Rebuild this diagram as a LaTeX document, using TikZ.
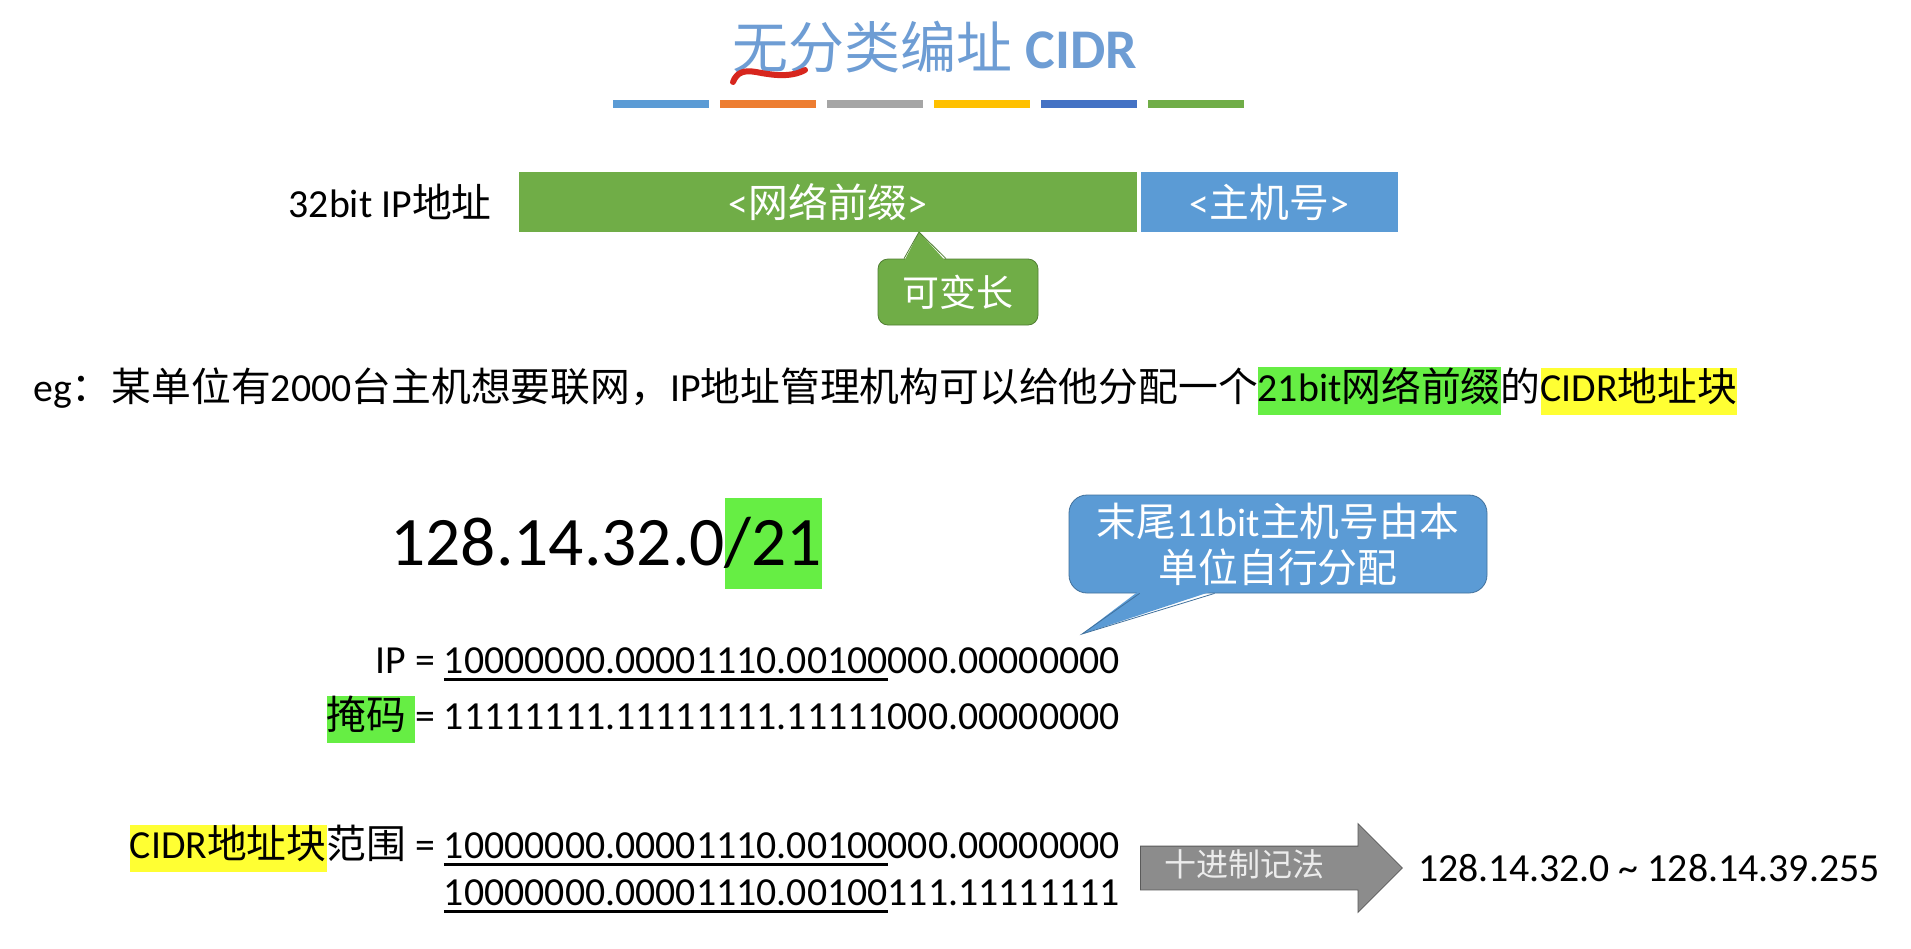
\documentclass[tikz,border=0pt]{standalone}
\usepackage{fontspec}
\setmainfont{Carlito}
\newfontfamily\zh{Noto Sans CJK SC}
\usepackage{xcolor}
\usepackage{tikz}
\usetikzlibrary{positioning, shapes.arrows, calc}

\definecolor{titleblue}{HTML}{6E9DD4}
\definecolor{barblue}{HTML}{5B9BD5}
\definecolor{barorange}{HTML}{ED7D31}
\definecolor{bargray}{HTML}{A5A5A5}
\definecolor{baryellow}{HTML}{FFC000}
\definecolor{bardarkblue}{HTML}{4472C4}
\definecolor{bargreen}{HTML}{70AD47}
\definecolor{greenedge}{HTML}{507E32}
\definecolor{blueedge}{HTML}{41719C}
\definecolor{hlgreen}{HTML}{66EE44}
\definecolor{hlyellow}{HTML}{FFFF33}
\definecolor{arrowgray}{HTML}{8C8C8C}
\definecolor{arrowedge}{HTML}{5A5A5A}
\definecolor{penred}{HTML}{D7261E}

\newcommand{\bodyfont}{\fontsize{19.9pt}{23pt}\selectfont}
\newcommand{\hlmark}[2]{{\setlength{\fboxsep}{0pt}\colorbox{#1}{\strut #2}}}
\newcommand{\ulbits}[1]{\setbox0\hbox{#1}\rlap{\rule[-3.8pt]{\wd0}{1.4pt}}\box0\relax}

\begin{document}
\begin{tikzpicture}[
    x=0.5pt, y=-0.5pt,
    body/.style={font=\bodyfont, inner sep=0pt},
    seg/.style={minimum height=30pt, inner sep=0pt, outer sep=0pt, text=white, font=\bodyfont},
    tag/.style={fill=bargreen, draw=greenedge, rounded corners=5pt, minimum width=80pt, minimum height=33pt, text=white, font=\zh\fontsize{18.5pt}{22pt}\selectfont},
    bubble/.style={fill=barblue, draw=blueedge, rounded corners=9pt, minimum width=209pt, minimum height=49pt, text=white, align=center, font=\bodyfont},
    decarrow/.style={single arrow, fill=arrowgray, draw=arrowedge, single arrow head extend=11.25pt, minimum height=131pt, text height=11pt, text depth=3pt, inner ysep=3.75pt, text=white!85!gray, font=\zh\fontsize{16pt}{19pt}\selectfont}
]
    \fill[white] (0,0) rectangle (1911,948);
    \useasboundingbox (0,0) rectangle (1911,948);

    % title
    \node[anchor=base, inner sep=0pt, text=titleblue, font=\fontsize{28pt}{32pt}\selectfont] (title) at (935,68) {{\zh 无分类编址} \textbf{CIDR}};
    \draw[penred, line width=3pt, line cap=round] (733,82) .. controls (737,72) and (744,70) .. (756,72) .. controls (772,75) and (790,78) .. (805,70);
    \foreach \c [count=\i from 0] in {barblue,barorange,bargray,baryellow,bardarkblue,bargreen}
        \fill[\c] ({613+107*\i},100) rectangle ++(96,8);

    % address layout
    \node[seg, fill=bargreen, minimum width=309pt, anchor=north west] (prefix) at (519,172) {<{\zh 网络前缀}>};
    \node[seg, fill=barblue, minimum width=128.5pt, right=2pt of prefix] (hostid) {<{\zh 主机号}>};
    \node[body, left=13.5pt of prefix] (iplabel) {32bit IP{\zh 地址}};

    \node[tag] (vlen) at (958,292) {可变长};
    \coordinate (vtip) at (919,232);
    \fill[bargreen] ($(vlen.north)+(-54,3)$) -- (vtip) -- ($(vlen.north)+(-12,3)$) -- cycle;
    \draw[greenedge] ($(vlen.north)+(-54,0)$) -- (vtip) -- ($(vlen.north)+(-12,0)$);

    % example
    \node[body, anchor=base west] (eg) at (33,401) {eg{\zh ：某单位有}2000{\zh 台主机想要联网，}IP{\zh 地址管理机构可以给他分配一个}\hlmark{hlgreen}{21bit{\zh 网络前缀}}{\zh 的}\hlmark{hlyellow}{CIDR{\zh 地址块}}};

    \node[anchor=base west, inner sep=0pt, font=\fontsize{34.75pt}{40pt}\selectfont] (block) at (390,565) {128.14.32.0\hlmark{hlgreen}{\rule{0pt}{33.5pt}/21}};

    \node[bubble] (note) at (1278,544) {{\zh 末尾}11bit{\zh 主机号由本}\\{\zh 单位自行分配}};
    \coordinate (ntip) at (1082,634);
    \fill[barblue] ($(note.south west)+(71,-3)$) -- (ntip) -- ($(note.south west)+(146,-3)$) -- cycle;
    \draw[blueedge] ($(note.south west)+(71,0)$) -- (ntip) -- ($(note.south west)+(146,0)$);

    \node[body, anchor=base east] (iprow) at (1120,673) {IP = \ulbits{10000000.00001110.00100}000.00000000};
    \node[body, anchor=base east] (maskrow) at (1120,729) {\hlmark{hlgreen}{{\zh 掩码} }= 11111111.11111111.11111000.00000000};

    \node[body, anchor=base east] (range) at (1120,858) {\hlmark{hlyellow}{CIDR{\zh 地址块}}{\zh 范围} = \ulbits{10000000.00001110.00100}000.00000000};
    \node[body, anchor=base east] (rangeend) at ([yshift=-23.5pt]range.base east) {\ulbits{10000000.00001110.00100}111.11111111};

    \node[decarrow, anchor=tail] (dec) at (1140,868) {十进制记法\hspace*{16pt}};
    \node[body, right=7.5pt of dec.tip] (decrange) {128.14.32.0 \textasciitilde{} 128.14.39.255};
\end{tikzpicture}
\end{document}
